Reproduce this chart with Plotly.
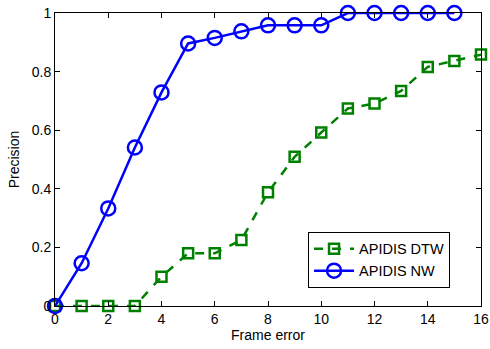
import plotly.graph_objects as go

frame_error = list(range(17))
dtw_x = list(range(17))
dtw_precision = [0, 0, 0, 0, 0.10, 0.18, 0.18, 0.225, 0.388, 0.509, 0.592, 0.674, 0.691, 0.734, 0.816, 0.836, 0.858]
nw_x = list(range(16))
nw_precision = [0, 0.146, 0.333, 0.541, 0.729, 0.896, 0.915, 0.9375, 0.958, 0.958, 0.958, 1, 1, 1, 1, 1]

x_ticks = [0, 2, 4, 6, 8, 10, 12, 14, 16]
y_ticks = [0, 0.2, 0.4, 0.6, 0.8, 1]
y_tick_labels = ["0", "0.2", "0.4", "0.6", "0.8", "1"]

fig = go.Figure()
fig.add_trace(go.Scatter(
    x=dtw_x, y=dtw_precision, name="APIDIS DTW", mode="lines+markers",
    line=dict(color="rgb(0,128,0)", width=2.5, dash="dash"),
    marker=dict(symbol="square-open", size=10, color="rgb(0,128,0)", line=dict(width=2.5)),
    cliponaxis=False,
))
fig.add_trace(go.Scatter(
    x=nw_x, y=nw_precision, name="APIDIS NW", mode="lines+markers",
    line=dict(color="rgb(0,0,255)", width=2.5),
    marker=dict(symbol="circle-open", size=14, color="rgb(0,0,255)", line=dict(width=2.5)),
    cliponaxis=False,
))

axis_common = dict(showline=True, linecolor="black", linewidth=1, mirror="ticks",
                   ticks="inside", ticklen=5, tickcolor="black", showgrid=False,
                   zeroline=False, automargin=False,
                   tickfont=dict(size=14, color="black"))

fig.update_layout(
    width=490, height=349,
    margin=dict(l=55, r=9, t=13, b=43),
    plot_bgcolor="white", paper_bgcolor="white",
    font=dict(family="Liberation Sans, Arial, sans-serif", size=14, color="black"),
    xaxis=dict(range=[0, 16], tickvals=x_ticks,
               title=dict(text="Frame error", standoff=3, font=dict(size=14)), **axis_common),
    yaxis=dict(range=[0, 1], tickvals=y_ticks, ticktext=y_tick_labels,
               title=dict(text="Precision", standoff=8, font=dict(size=14)), **axis_common),
    legend=dict(x=0.594, y=0.253, xanchor="left", yanchor="top",
                bordercolor="black", borderwidth=1, bgcolor="white",
                font=dict(size=14.5), tracegroupgap=2, entrywidth=110, itemwidth=40),
    showlegend=True,
)

fig.write_html("out.html", config={"displayModeBar": False},
               post_script="document.body.style.margin='0';")
